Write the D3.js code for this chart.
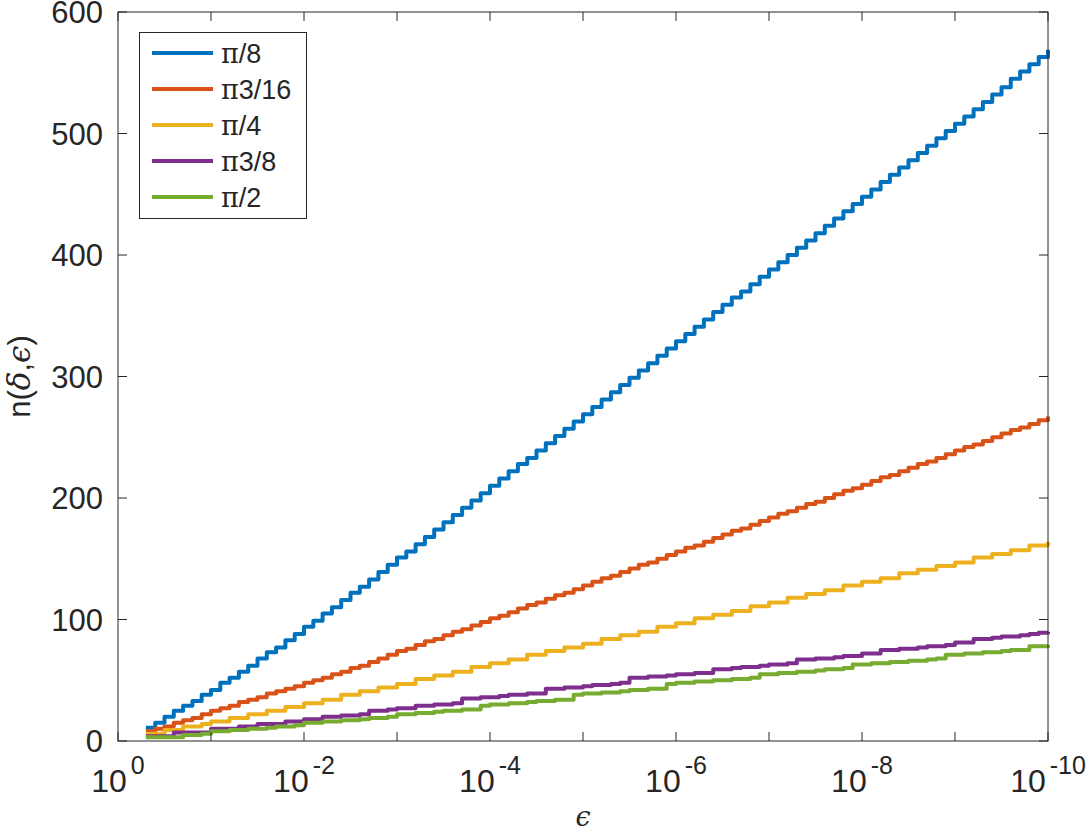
<!DOCTYPE html>
<html lang="en">
<meta http-equiv="content-type" content="text/html; charset=utf-8" />
<script src="https://d3js.org/d3.v7.min.js"></script>
<style>
  body { margin: 0; background: white; }
  text { font-family: "Liberation Sans", Arial, Helvetica, sans-serif; fill: #262626; }
  .greek { font-family: "DejaVu Serif", "Liberation Serif", serif; }
</style>
<body>
<svg id="chart" width="1086" height="836"></svg>
<script>
// log10 of epsilon, one sample every 0.1 decade
var logEps = [
  -0.3,-0.4,-0.5,-0.6,-0.7,-0.8,-0.9,-1.0,-1.1,-1.2,
  -1.3,-1.4,-1.5,-1.6,-1.7,-1.8,-1.9,-2.0,-2.1,-2.2,
  -2.3,-2.4,-2.5,-2.6,-2.7,-2.8,-2.9,-3.0,-3.1,-3.2,
  -3.3,-3.4,-3.5,-3.6,-3.7,-3.8,-3.9,-4.0,-4.1,-4.2,
  -4.3,-4.4,-4.5,-4.6,-4.7,-4.8,-4.9,-5.0,-5.1,-5.2,
  -5.3,-5.4,-5.5,-5.6,-5.7,-5.8,-5.9,-6.0,-6.1,-6.2,
  -6.3,-6.4,-6.5,-6.6,-6.7,-6.8,-6.9,-7.0,-7.1,-7.2,
  -7.3,-7.4,-7.5,-7.6,-7.7,-7.8,-7.9,-8.0,-8.1,-8.2,
  -8.3,-8.4,-8.5,-8.6,-8.7,-8.8,-8.9,-9.0,-9.1,-9.2,
  -9.3,-9.4,-9.5,-9.6,-9.7,-9.8,-9.9,-10.0];

var nPi8 = [
  11,15,20,25,29,33,38,42,48,52,
  57,62,68,73,77,83,88,94,99,105,
  110,116,122,127,133,139,145,151,156,162,
  168,174,180,186,192,198,204,210,216,222,
  228,233,239,245,251,257,263,269,275,281,
  287,293,299,305,311,317,323,329,335,341,
  347,353,359,365,370,376,382,388,394,400,
  406,412,418,424,430,436,442,448,454,460,
  466,472,478,484,490,496,502,508,514,520,
  526,532,538,545,551,557,563,569];

var nPi3_16 = [
  8,10,12,15,17,19,22,25,27,29,
  32,34,36,39,41,43,45,48,50,52,
  55,57,60,62,65,68,71,74,76,79,
  82,84,87,90,92,95,98,101,103,106,
  109,112,114,117,120,122,125,128,131,134,
  136,139,142,145,147,150,153,156,159,161,
  164,167,170,173,175,178,181,184,187,189,
  192,195,197,200,203,206,208,211,214,217,
  219,222,225,228,230,233,236,239,242,244,
  247,250,253,256,258,261,264,267];

var nPi4 = [
  6,6,9,9,12,12,14,16,16,19,
  19,22,22,25,25,28,28,31,31,34,
  34,38,38,41,41,44,44,47,47,51,
  51,54,54,57,57,61,61,64,64,67,
  67,71,71,74,74,77,77,80,80,84,
  84,87,87,90,90,94,94,97,97,101,
  101,104,104,107,107,111,111,114,114,118,
  118,121,121,124,124,128,128,131,131,134,
  134,138,138,141,141,144,144,147,147,151,
  151,154,154,157,157,161,161,164];

var nPi3_8 = [
  4,4,4,7,7,7,7,10,10,10,
  12,12,14,14,14,16,16,18,18,20,
  20,21,21,22,25,25,26,27,27,29,
  29,30,30,31,35,35,36,36,37,38,
  38,39,39,43,43,44,44,45,46,46,
  47,48,52,52,53,53,54,55,55,56,
  56,59,59,60,61,61,62,63,63,64,
  67,67,68,68,69,70,70,72,72,75,
  75,76,76,77,78,78,79,81,81,84,
  84,85,86,86,87,88,89,90];

var nPi2 = [
  3,3,3,3,5,5,6,8,8,9,
  9,10,10,11,12,12,13,15,15,16,
  16,17,17,18,19,19,20,22,22,23,
  23,24,25,25,26,26,29,30,30,31,
  31,32,33,33,34,34,38,39,39,40,
  40,41,42,42,43,43,47,48,48,49,
  49,50,50,51,51,52,55,55,56,56,
  57,57,58,59,59,60,63,63,64,64,
  65,65,66,66,67,68,71,71,72,72,
  73,73,74,75,75,78,78,79];

var seriesNames = ["/8", "3/16", "/4", "3/8", "/2"];   // each is prefixed by pi
var seriesValues = [nPi8, nPi3_16, nPi4, nPi3_8, nPi2];
var colors = ["#0072BD", "#D95319", "#EDB120", "#7E2F8E", "#77AC30"];

var xTickExp = [0, -1, -2, -3, -4, -5, -6, -7, -8, -9, -10];
var xLabelExp = [0, -2, -4, -6, -8, -10];
var yTicks = [0, 100, 200, 300, 400, 500, 600];

var padL = 118, padR = 1048, padT = 12, padB = 741;
var axisColor = "#262626";

var svg = d3.select("#chart");

var x = d3.scaleLog().domain([1, 1e-10]).range([padL, padR]);
var y = d3.scaleLinear().domain([0, 600]).range([padB, padT]);

// lines
var line = d3.line()
    .x(function(d) { return x(Math.pow(10, d[0])); })
    .y(function(d) { return y(d[1]); })
    .curve(d3.curveStepAfter);

var plot = svg.append("g");
seriesValues.forEach(function(vals, i) {
  var pts = logEps.map(function(e, j) { return [e, vals[j]]; });
  plot.append("path")
      .datum(pts)
      .attr("fill", "none")
      .attr("stroke", colors[i])
      .attr("stroke-width", 4)
      .attr("stroke-linejoin", "round")
      .attr("d", line);
});

// frame
svg.append("rect")
    .attr("x", padL).attr("y", padT)
    .attr("width", padR - padL).attr("height", padB - padT)
    .attr("fill", "none").attr("stroke", axisColor).attr("stroke-width", 1);

// ticks (inward, mirrored on top and right)
var tickLen = 9;
var tk = svg.append("g").attr("stroke", axisColor).attr("stroke-width", 1);
xTickExp.forEach(function(e) {
  var px = x(Math.pow(10, e));
  tk.append("line").attr("x1", px).attr("x2", px).attr("y1", padB).attr("y2", padB - tickLen);
  tk.append("line").attr("x1", px).attr("x2", px).attr("y1", padT).attr("y2", padT + tickLen);
});
yTicks.forEach(function(v) {
  var py = y(v);
  tk.append("line").attr("x1", padL).attr("x2", padL + tickLen).attr("y1", py).attr("y2", py);
  tk.append("line").attr("x1", padR).attr("x2", padR - tickLen).attr("y1", py).attr("y2", py);
});

// y tick labels
yTicks.forEach(function(v) {
  svg.append("text")
      .attr("x", padL - 15)
      .attr("y", y(v))
      .attr("dy", "0.36em")
      .attr("text-anchor", "end")
      .style("font-size", "31px")
      .text(v);
});

// x tick labels 10^k
xLabelExp.forEach(function(e) {
  var t = svg.append("text")
      .attr("x", x(Math.pow(10, e)))
      .attr("y", 792)
      .attr("text-anchor", "middle")
      .style("font-size", "32px");
  t.append("tspan").text("10");
  t.append("tspan").attr("dx", 4).attr("dy", -18).style("font-size", "25px").text(e);
});

// axis labels
var xl = svg.append("text")
    .attr("x", (padL + padR) / 2)
    .attr("y", 826)
    .attr("text-anchor", "middle")
    .style("font-size", "27px");
xl.append("tspan").attr("class", "greek").style("font-style", "italic").text("\u03F5");

var yl = svg.append("text")
    .attr("transform", "translate(30," + ((padT + padB) / 2) + ") rotate(-90)")
    .attr("text-anchor", "middle")
    .style("font-size", "31px");
yl.append("tspan").text("n(");
yl.append("tspan").attr("class", "greek").style("font-style", "italic").text("\u03B4");
yl.append("tspan").text(",");
yl.append("tspan").attr("class", "greek").style("font-style", "italic").text("\u03F5");
yl.append("tspan").text(")");

// legend
var lg = svg.append("g");
lg.append("rect")
    .attr("x", 139.5).attr("y", 32.5)
    .attr("width", 167).attr("height", 186)
    .attr("fill", "white").attr("stroke", axisColor).attr("stroke-width", 1);
seriesNames.forEach(function(name, i) {
  var ly = 53 + i * 36;
  lg.append("line")
      .attr("x1", 152).attr("x2", 213)
      .attr("y1", ly).attr("y2", ly)
      .attr("stroke", colors[i]).attr("stroke-width", 4);
  var t = lg.append("text")
      .attr("x", 221).attr("y", ly)
      .attr("dy", "0.36em")
      .style("font-size", "27px");
  t.append("tspan").attr("class", "greek").text("\u03C0");
  t.append("tspan").text(name);
});
</script>
</body>
</html>
